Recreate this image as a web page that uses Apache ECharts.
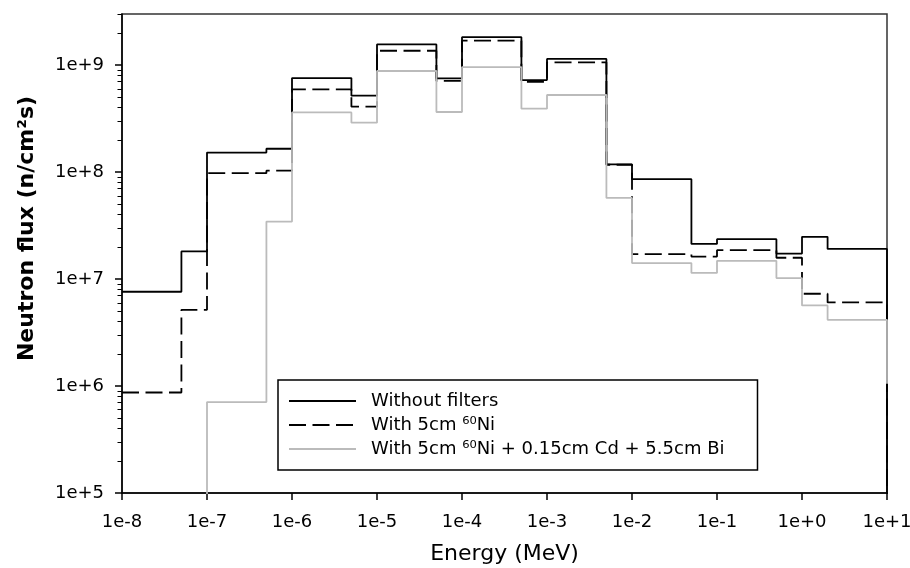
<!DOCTYPE html>
<html>
<head>
<meta charset="utf-8">
<script src="https://cdn.jsdelivr.net/npm/echarts@6/dist/echarts.min.js"></script>
<style>
html,body{margin:0;padding:0;background:#fff;}
#chart{width:910px;height:568px;}
</style>
</head>
<body>
<div id="chart"></div>
<script>
// Energy bin edges (MeV)
const edges = [1e-8, 5e-8, 1e-7, 5e-7, 1e-6, 5e-6, 1e-5, 5e-5, 1e-4, 5e-4, 1e-3, 5e-3, 1e-2, 5e-2, 1e-1, 5e-1, 1, 2, 10];
// Neutron flux per bin (n/cm2 s)
const fluxNoFilter = [7.6e6, 1.81e7, 1.52e8, 1.65e8, 7.56e8, 5.17e8, 1.56e9, 7.5e8, 1.82e9, 7.24e8, 1.14e9, 1.18e8, 8.57e7, 2.13e7, 2.36e7, 1.73e7, 2.48e7, 1.91e7];
const fluxNi = [8.7e5, 5.15e6, 9.75e7, 1.03e8, 5.93e8, 4.08e8, 1.36e9, 7.1e8, 1.69e9, 6.98e8, 1.06e9, 1.17e8, 1.71e7, 1.62e7, 1.86e7, 1.58e7, 7.28e6, 6.04e6];
const fluxNiCdBi = [null, null, 7.08e5, 3.44e7, 3.61e8, 2.89e8, 8.8e8, 3.64e8, 9.58e8, 3.91e8, 5.25e8, 5.73e7, 1.41e7, 1.14e7, 1.48e7, 1.02e7, 5.66e6, 4.16e6];
// value each histogram falls to after its last edge
const endDrop = [0.1, 0.1, 1.05e6];
const seriesNames = ['Without filters', 'With 5cm \u2076\u2070Ni', 'With 5cm \u2076\u2070Ni + 0.15cm Cd + 5.5cm Bi'];

// axis ticks
const xTickValues = [1e-8, 1e-7, 1e-6, 1e-5, 1e-4, 1e-3, 1e-2, 1e-1, 1, 10];
const xTickLabels = ['1e-8', '1e-7', '1e-6', '1e-5', '1e-4', '1e-3', '1e-2', '1e-1', '1e+0', '1e+1'];
const yTickValues = [1e5, 1e6, 1e7, 1e8, 1e9];
const yTickLabels = ['1e+5', '1e+6', '1e+7', '1e+8', '1e+9'];
const yMin = 1e5, yMax = 3e9;

const offScale = 0.1;
function stepData(vals, endValue) {
  const out = [];
  for (let i = 0; i < vals.length; i++) {
    const v = vals[i];
    if (v == null) continue;
    if (i > 0 && vals[i - 1] == null) out.push([edges[i], offScale]);
    out.push([edges[i], v]);
  }
  out.push([edges[edges.length - 1], vals[vals.length - 1]]);
  out.push([edges[edges.length - 1], endValue]);
  return out;
}

const yMinor = [];
for (let e = 5; e <= 9; e++) {
  for (let m = 2; m <= 9; m++) {
    const v = m * Math.pow(10, e);
    if (v <= yMax) yMinor.push(v);
  }
}

function fmtX(v) {
  const i = xTickValues.findIndex(t => Math.abs(Math.log10(t) - Math.log10(v)) < 1e-6);
  return i >= 0 ? xTickLabels[i] : '';
}
function fmtY(v) {
  const i = yTickValues.findIndex(t => Math.abs(Math.log10(t) - Math.log10(v)) < 1e-6);
  return i >= 0 ? yTickLabels[i] : '';
}

const FONT = 'DejaVu Sans';
const chart = echarts.init(document.getElementById('chart'), null, {renderer: 'canvas'});
const option = {
  backgroundColor: '#ffffff',
  animation: false,
  textStyle: {fontFamily: FONT},
  grid: {left: 122, right: 23, top: 14, bottom: 75, outerBoundsMode: 'none', containLabel: false,
         show: true, borderColor: '#333', borderWidth: 1.5, backgroundColor: 'transparent'},
  legend: {
    orient: 'vertical',
    left: 278, top: 380,
    padding: [12, 33, 12, 10],
    itemGap: 6,
    itemWidth: 67, itemHeight: 14,
    borderColor: '#000', borderWidth: 1.5,
    itemStyle: {opacity: 0},
    textStyle: {fontFamily: FONT, fontSize: 18, color: '#000', padding: [0, 0, 0, 10]},
    data: seriesNames
  },
  xAxis: {
    type: 'log', logBase: 10, min: 1e-8, max: 10,
    name: 'Energy (MeV)', nameLocation: 'middle', nameGap: 50,
    nameTextStyle: {fontFamily: FONT, fontSize: 22, color: '#000'},
    axisLine: {show: true, lineStyle: {color: '#000', width: 1.5}},
    axisTick: {show: true, customValues: xTickValues, length: 7, lineStyle: {color: '#000', width: 1.5}},
    axisLabel: {customValues: xTickValues, formatter: fmtX, margin: 20, fontFamily: FONT, fontSize: 18, color: '#000'},
    splitLine: {show: false}, minorTick: {show: false}
  },
  yAxis: [{
    type: 'log', logBase: 10, min: yMin, max: yMax,
    name: 'Neutron flux (n/cm\u00b2s)', nameLocation: 'middle', nameRotate: 90, nameGap: 84,
    nameTextStyle: {fontFamily: FONT, fontSize: 22, fontWeight: 'bold', color: '#000', padding: [0, 0, 0, 50]},
    axisLine: {show: true, lineStyle: {color: '#000', width: 1.5}},
    axisTick: {show: true, customValues: yTickValues, length: 7, lineStyle: {color: '#000', width: 1.5}},
    axisLabel: {customValues: yTickValues, formatter: fmtY, margin: 18, fontFamily: FONT, fontSize: 18, color: '#000'},
    splitLine: {show: false}
  }, {
    type: 'log', logBase: 10, min: yMin, max: yMax, position: 'left',
    axisLine: {show: false},
    axisTick: {show: true, customValues: yMinor, length: 4.5, lineStyle: {color: '#000', width: 1}},
    axisLabel: {show: false},
    splitLine: {show: false}
  }],
  series: [
    {name: seriesNames[0], type: 'line', step: 'end', symbol: 'none', data: stepData(fluxNoFilter, endDrop[0]),
     lineStyle: {color: '#000', width: 1.8, type: 'solid'}, itemStyle: {color: '#000'}},
    {name: seriesNames[1], type: 'line', step: 'end', symbol: 'none', data: stepData(fluxNi, endDrop[1]),
     lineStyle: {color: '#000', width: 1.8, type: [17, 6.5]}, itemStyle: {color: '#000'}},
    {name: seriesNames[2], type: 'line', step: 'end', symbol: 'none', data: stepData(fluxNiCdBi, endDrop[2]),
     lineStyle: {color: '#bbbbbb', width: 1.8, type: 'solid'}, itemStyle: {color: '#bbbbbb'}}
  ]
};
chart.setOption(option);
</script>
</body>
</html>
